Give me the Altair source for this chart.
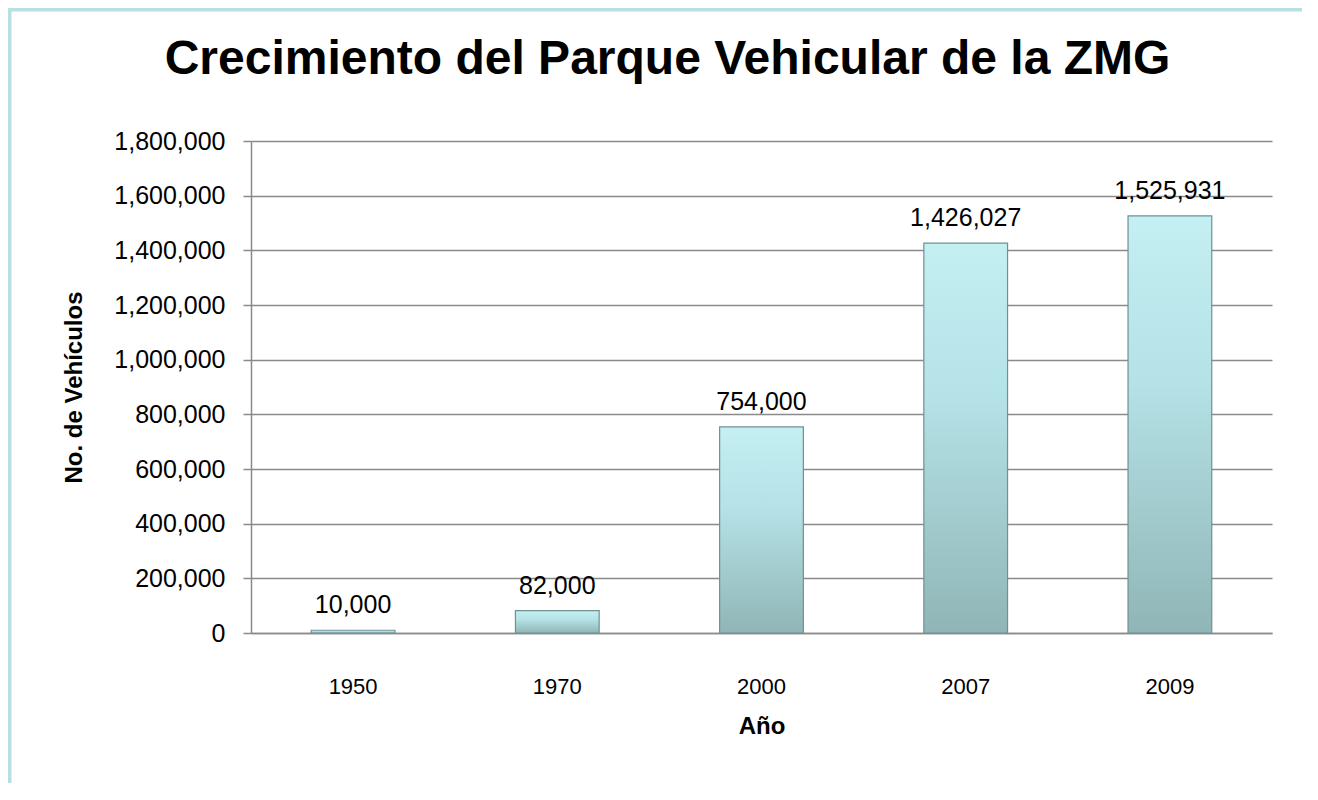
import altair as alt
import pandas as pd

years = ["1950", "1970", "2000", "2007", "2009"]
vehicles = [10000, 82000, 754000, 1426027, 1525931]
y_ticks = [0, 200000, 400000, 600000, 800000, 1000000, 1200000, 1400000, 1600000, 1800000]

df = pd.DataFrame({"Año": years, "Vehiculos": vehicles})

FONT = "Liberation Sans"
W, H = 1021, 492
GRID = "#8a8a8a"

x_enc = alt.X(
    "Año:N",
    sort=years,
    scale=alt.Scale(paddingInner=0.59, paddingOuter=0.295),
    axis=alt.Axis(
        title="Año",
        labelAngle=0,
        ticks=False,
        labelPadding=60,
        labelBaseline="alphabetic",
        labelFont=FONT,
        labelFontSize=22,
        labelColor="black",
        titleFont=FONT,
        titleFontSize=24,
        titleFontWeight="bold",
        titleColor="black",
        titleX=W / 2,
        titleY=100,
        titleAlign="center",
        titleBaseline="alphabetic",
        domainColor=GRID,
        domainWidth=1.5,
        grid=False,
    ),
)

y_enc = alt.Y(
    "Vehiculos:Q",
    scale=alt.Scale(domain=[0, 1800000], nice=False),
    axis=alt.Axis(
        values=y_ticks,
        format=",d",
        title="No. de Vehículos",
        tickSize=8,
        tickColor=GRID,
        tickWidth=1.5,
        labelPadding=18,
        labelFont=FONT,
        labelFontSize=25,
        labelColor="black",
        labelBaseline="middle",
        grid=True,
        gridColor=GRID,
        gridWidth=1.5,
        domainColor=GRID,
        domainWidth=1.5,
        titleFont=FONT,
        titleFontSize=24,
        titleFontWeight="bold",
        titleColor="black",
        titleAngle=270,
        titleX=-177,
        titleY=H / 2,
        titleAlign="center",
        titleBaseline="middle",
    ),
)

bar_fill = alt.Gradient(
    gradient="linear",
    x1=0, x2=0, y1=0, y2=1,
    stops=[
        alt.GradientStop(color="#c4eff3", offset=0),
        alt.GradientStop(color="#b4e2e6", offset=0.4),
        alt.GradientStop(color="#90b5b6", offset=1),
    ],
)

bars = alt.Chart(df).mark_bar(
    color=bar_fill, stroke="#6f9192", strokeWidth=1.2
).encode(x=x_enc, y=y_enc)

labels = alt.Chart(df).mark_text(
    dy=-17, baseline="alphabetic", align="center", font=FONT, fontSize=25, color="black"
).encode(
    x=alt.X("Año:N", sort=years),
    y=alt.Y("Vehiculos:Q"),
    text=alt.Text("Vehiculos:Q", format=",d"),
)

frame = alt.Chart(alt.Data(values=[{"f": 1}])).mark_rect(
    filled=False, stroke="#b8dfe2", strokeWidth=4
).encode(
    x=alt.value(-241.5), x2=alt.value(1200),
    y=alt.value(-131.5), y2=alt.value(800),
)

chart = alt.layer(bars, labels, frame).properties(
    width=W,
    height=H,
    autosize=alt.AutoSizeParams(type="none"),
    padding={"left": 243, "top": 133, "right": 30, "bottom": 150},
    title=alt.TitleParams(
        text="Crecimiento del Parque Vehicular de la ZMG",
        font=FONT,
        fontSize=48,
        fontWeight="bold",
        color="black",
        anchor="middle",
        frame="group",
        dx=-94,
        baseline="alphabetic",
        offset=-114.5,
    ),
    background="white",
).configure_view(stroke=None)

chart.save("out.html", embed_options={"renderer": "svg", "actions": False})
